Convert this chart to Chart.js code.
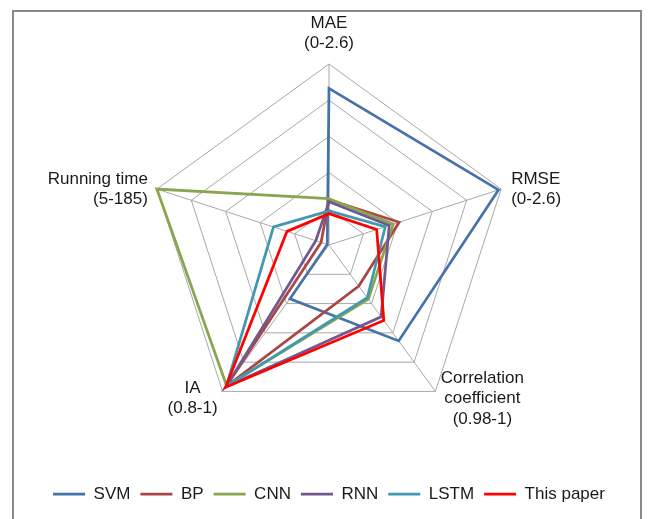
<!DOCTYPE html>
<html><head><meta charset="utf-8">
<script src="https://cdn.jsdelivr.net/npm/chart.js@4.4.1/dist/chart.umd.min.js"></script>
<style>html,body{margin:0;padding:0;background:#fff;overflow:hidden}</style>
</head><body>
<canvas id="c" width="648" height="519"></canvas>
<script>
// ---- data ----
const axisNames = [['MAE','(0-2.6)'],['RMSE','(0-2.6)'],['Correlation','coefficient','(0.98-1)'],['IA','(0.8-1)'],['Running time','(5-185)']];
const axisMin = [0, 0, 0.98, 0.8, 5];
const axisMax = [2.6, 2.6, 1, 1, 185];
const seriesNames = ['SVM','BP','CNN','RNN','LSTM','This paper'];
const svm       = [2.25, 2.56, 0.9931, 0.8734, 6.8];
const bp        = [0.65, 1.06, 0.9856, 0.9930, 13.3];
const cnn       = [0.665, 0.97, 0.9874, 0.9924, 185];
const rnn       = [0.62, 0.91, 0.9898, 0.9936, 18.8];
const lstm      = [0.49, 0.85, 0.9872, 0.9930, 63];
const thisPaper = [0.45, 0.72, 0.9903, 0.9944, 48.9];

// ---- styles ----
const FONT = '"Liberation Sans", Arial, sans-serif';
const colors = ['#4572A7','#AA4643','#89A54E','#71588F','#4198AF','#FF0000'];
const allSeries = [svm, bp, cnn, rnn, lstm, thisPaper];
const norm = arr => arr.map((v, i) => (v - axisMin[i]) / (axisMax[i] - axisMin[i]));

const labelStyle = [
  {align:'center', dx:0,   dy:-10,   v:'bottom'},
  {align:'left',   dx:10,  dy:0,     v:'middle'},
  {align:'center', dx:47,  dy:-23.5, v:'top'},
  {align:'center', dx:-30, dy:-13.5, v:'top'},
  {align:'right',  dx:-9,  dy:0,     v:'middle'}
];
const LH = 20.5;

const framePlugin = {
  id: 'frame',
  beforeDraw(chart) {
    const ctx = chart.ctx;
    ctx.save();
    ctx.fillStyle = '#fff';
    ctx.fillRect(0, 0, chart.width, chart.height);
    ctx.strokeStyle = '#898989';
    ctx.lineWidth = 2;
    ctx.strokeRect(13, 11, 628, 530);
    ctx.restore();
  }
};

const axisLabelPlugin = {
  id: 'axisLabels',
  afterDraw(chart) {
    const scale = chart.scales.r;
    const ctx = chart.ctx;
    ctx.save();
    ctx.font = '17px ' + FONT;
    ctx.fillStyle = '#1a1a1a';
    ctx.textBaseline = 'middle';
    axisNames.forEach((lines, i) => {
      const p = scale.getPointPosition(i, scale.drawingArea);
      const s = labelStyle[i];
      const x = p.x + s.dx;
      const y = p.y + s.dy;
      let top;
      if (s.v === 'bottom') top = y - lines.length * LH;
      else if (s.v === 'middle') top = y - lines.length * LH / 2;
      else top = y;
      ctx.textAlign = s.align;
      lines.forEach((t, k) => ctx.fillText(t, x, top + LH * (k + 0.5)));
    });
    ctx.restore();
  }
};

new Chart(document.getElementById('c'), {
  type: 'radar',
  data: {
    labels: axisNames.map(a => a.join(' ')),
    datasets: allSeries.map((d, i) => ({
      label: seriesNames[i],
      data: norm(d),
      borderColor: colors[i],
      backgroundColor: colors[i],
      borderWidth: 2.75,
      fill: false,
      pointRadius: 0,
      pointHoverRadius: 0,
      order: allSeries.length - i
    }))
  },
  options: {
    responsive: false,
    animation: false,
    devicePixelRatio: 1,
    layout: {padding: {left: 12, right: 2, top: 64, bottom: 6.5}},
    elements: {line: {tension: 0, borderJoinStyle: 'miter'}},
    scales: {
      r: {
        min: 0, max: 1,
        ticks: {display: false, stepSize: 0.2},
        grid: {color: '#a9a9a9', lineWidth: 1},
        angleLines: {color: '#a9a9a9', lineWidth: 1},
        pointLabels: {display: false}
      }
    },
    plugins: {
      tooltip: {enabled: false},
      legend: {
        position: 'bottom',
        labels: {
          usePointStyle: true,
          pointStyle: 'line',
          pointStyleWidth: 32,
          padding: 10,
          color: '#1a1a1a',
          font: {size: 17, family: FONT},
          sort: (a, b) => a.datasetIndex - b.datasetIndex
        },
        title: {display: true, text: '', padding: {top: 39.5, bottom: 0}, font: {size: 10, lineHeight: 1}}
      }
    }
  },
  plugins: [framePlugin, axisLabelPlugin]
});
</script>
</body></html>
